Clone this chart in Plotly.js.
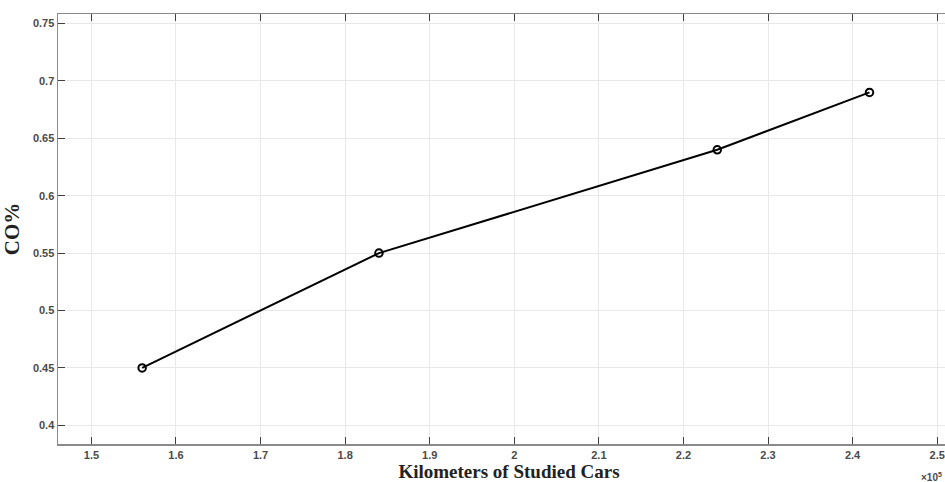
<!DOCTYPE html>
<html>
<head>
<meta charset="utf-8">
<script src="https://cdn.plot.ly/plotly-3.0.1.min.js"></script>
<style>
html,body{margin:0;padding:0;overflow:hidden;background:#fff;}
#chart{width:980px;height:482px;}
</style>
</head>
<body>
<div id="chart"></div>
<script>
// Kilometers of studied cars (units of 10^5 km)
const kilometers = [1.56, 1.84, 2.24, 2.42];
// CO percentage
const coPercent = [0.45, 0.55, 0.64, 0.69];
const xTickVals = [1.5, 1.6, 1.7, 1.8, 1.9, 2.0, 2.1, 2.2, 2.3, 2.4, 2.5];
const xTickText = ['1.5','1.6','1.7','1.8','1.9','2','2.1','2.2','2.3','2.4','2.5'];
const yTickVals = [0.4, 0.45, 0.5, 0.55, 0.6, 0.65, 0.7, 0.75];
const yTickText = ['0.4','0.45','0.5','0.55','0.6','0.65','0.7','0.75'];

const trace = {
  x: kilometers,
  y: coPercent,
  type: 'scatter',
  mode: 'lines+markers',
  line: {color: '#000', width: 2},
  marker: {symbol: 'circle-open', size: 7.5, color: '#000', line: {width: 2, color: '#000'}},
  showlegend: false,
  hoverinfo: 'skip'
};

const tickFont = {family: 'Liberation Sans, Arial, sans-serif', size: 11, color: '#4a4a4a', weight: 'bold'};

const layout = {
  width: 980, height: 482,
  margin: {l: 58, r: 20, t: 14, b: 38},
  paper_bgcolor: '#fff', plot_bgcolor: '#fff',
  xaxis: {
    range: [1.4605, 2.527],
    tickvals: xTickVals, ticktext: xTickText,
    ticks: 'inside', ticklen: 7, tickwidth: 1, tickcolor: '#404040',
    showline: true, linecolor: '#8a8a8a', linewidth: 1.5, mirror: 'ticks',
    showgrid: true, gridcolor: '#e8e8e8', gridwidth: 1,
    zeroline: false,
    tickfont: tickFont,
    title: {text: 'Kilometers of Studied Cars', standoff: 4,
      font: {family: 'Liberation Serif, Times New Roman, serif', size: 19, color: '#222', weight: 'bold'}}
  },
  yaxis: {
    range: [0.3837, 0.7583],
    tickvals: yTickVals, ticktext: yTickText,
    ticks: 'inside', ticklen: 7, tickwidth: 1, tickcolor: '#404040',
    showline: true, linecolor: '#8a8a8a', linewidth: 1.5, mirror: 'ticks',
    showgrid: true, gridcolor: '#e8e8e8', gridwidth: 1,
    zeroline: false,
    tickfont: tickFont,
    title: {text: 'CO%', standoff: 8,
      font: {family: 'Liberation Serif, Times New Roman, serif', size: 21, color: '#222', weight: 'bold'}}
  },
  annotations: [{
    xref: 'paper', yref: 'paper', x: 0.955, y: -0.058, xanchor: 'left', yanchor: 'top',
    text: '×10<sup>5</sup>', showarrow: false,
    font: {family: 'Liberation Sans, Arial, sans-serif', size: 10, color: '#4a4a4a', weight: 'bold'}
  }]
};

Plotly.newPlot('chart', [trace], layout, {displayModeBar: false, staticPlot: true});
</script>
</body>
</html>
